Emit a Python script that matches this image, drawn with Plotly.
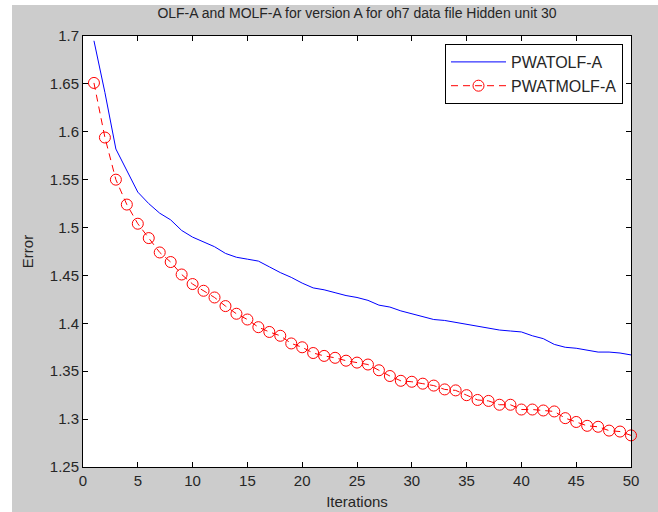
import plotly.graph_objects as go

iterations = list(range(1, 51))

pwatolf_a = [1.695, 1.641, 1.582, 1.560, 1.537, 1.525, 1.515, 1.508, 1.497, 1.490,
             1.485, 1.480, 1.473, 1.469, 1.467, 1.465, 1.459, 1.453, 1.448, 1.442,
             1.437, 1.435, 1.432, 1.429, 1.427, 1.424, 1.419, 1.417, 1.413, 1.410,
             1.407, 1.404, 1.403, 1.401, 1.399, 1.397, 1.395, 1.393, 1.392, 1.391,
             1.387, 1.384, 1.378, 1.375, 1.374, 1.372, 1.370, 1.370, 1.369, 1.367]

pwatmolf_a = [1.651, 1.594, 1.550, 1.524, 1.504, 1.489, 1.474, 1.464, 1.451, 1.441,
              1.434, 1.427, 1.418, 1.410, 1.404, 1.396, 1.391, 1.387, 1.379, 1.375,
              1.369, 1.366, 1.364, 1.361, 1.359, 1.357, 1.351, 1.345, 1.340, 1.339,
              1.337, 1.335, 1.331, 1.330, 1.325, 1.320, 1.319, 1.315, 1.315, 1.310,
              1.310, 1.309, 1.308, 1.301, 1.297, 1.293, 1.292, 1.288, 1.287, 1.283]

x_ticks = [0, 5, 10, 15, 20, 25, 30, 35, 40, 45, 50]
y_ticks = [1.25, 1.3, 1.35, 1.4, 1.45, 1.5, 1.55, 1.6, 1.65, 1.7]
y_tick_text = ["1.25", "1.3", "1.35", "1.4", "1.45", "1.5", "1.55", "1.6", "1.65", "1.7"]

W, H = 658, 512
GRAY = "#cccccc"
TXT = "#262626"
FONT = "Liberation Sans, Arial, sans-serif"

fig = go.Figure()
fig.add_trace(go.Scatter(
    x=iterations, y=pwatolf_a, mode="lines", name="PWATOLF-A",
    line=dict(color="#0000ff", width=1), cliponaxis=False))
fig.add_trace(go.Scatter(
    x=iterations, y=pwatmolf_a, mode="lines+markers", name="PWATMOLF-A",
    line=dict(color="#ff0000", width=1, dash="7px,5px"),
    marker=dict(symbol="circle-open", size=11, color="#ff0000", line=dict(width=1)),
    cliponaxis=False))

ml, mr, mt, mb = 83, 27, 36, 45
PW, PH = W - ml - mr, H - mt - mb

axis_common = dict(
    showgrid=False, zeroline=False, showline=True, linecolor="#000000", linewidth=1,
    mirror="ticks", ticks="inside", ticklen=5, tickcolor="#000000", tickwidth=1,
    tickfont=dict(family=FONT, size=15, color=TXT), automargin=False,
)

fig.update_layout(
    width=W, height=H,
    margin=dict(l=ml, r=mr, t=mt, b=mb, pad=0, autoexpand=False),
    paper_bgcolor=GRAY, plot_bgcolor="#ffffff",
    font=dict(family=FONT, size=15, color=TXT),
    title=dict(text="OLF-A and MOLF-A for version A for oh7 data file Hidden unit 30",
               x=(ml + (W - mr)) / 2 / W, xanchor="center", xref="container",
               y=1 - 13 / H, yanchor="middle", yref="container",
               font=dict(family=FONT, size=14, color=TXT)),
    xaxis=dict(range=[0, 50], tickvals=x_ticks,
               title=dict(text="Iterations", standoff=8, font=dict(family=FONT, size=15, color=TXT)),
               **axis_common),
    yaxis=dict(range=[1.25, 1.7], tickvals=y_ticks, ticktext=y_tick_text,
               title=dict(text="Error", standoff=12, font=dict(family=FONT, size=15, color=TXT)),
               **axis_common),
    legend=dict(x=(623 - ml) / PW, xanchor="right",
                y=1 - (44 - mt) / PH, yanchor="top",
                bgcolor="#ffffff", bordercolor="#000000", borderwidth=1,
                font=dict(family=FONT, size=16, color=TXT),
                tracegroupgap=0, itemwidth=55),
    showlegend=True,
    shapes=[
        dict(type="rect", xref="paper", yref="paper",
             x0=-ml / PW, x1=-(ml - 12) / PW,
             y0=-(mb + 10) / PH, y1=1 + (mt + 10) / PH,
             fillcolor="#ffffff", line=dict(width=0), layer="below"),
        dict(type="rect", xref="paper", yref="paper",
             x0=-ml / PW, x1=1 + (mr + 10) / PW,
             y0=1 + (mt - 5) / PH, y1=1 + (mt + 10) / PH,
             fillcolor="#ffffff", line=dict(width=0), layer="below"),
    ],
)

fig.write_html("out.html")
